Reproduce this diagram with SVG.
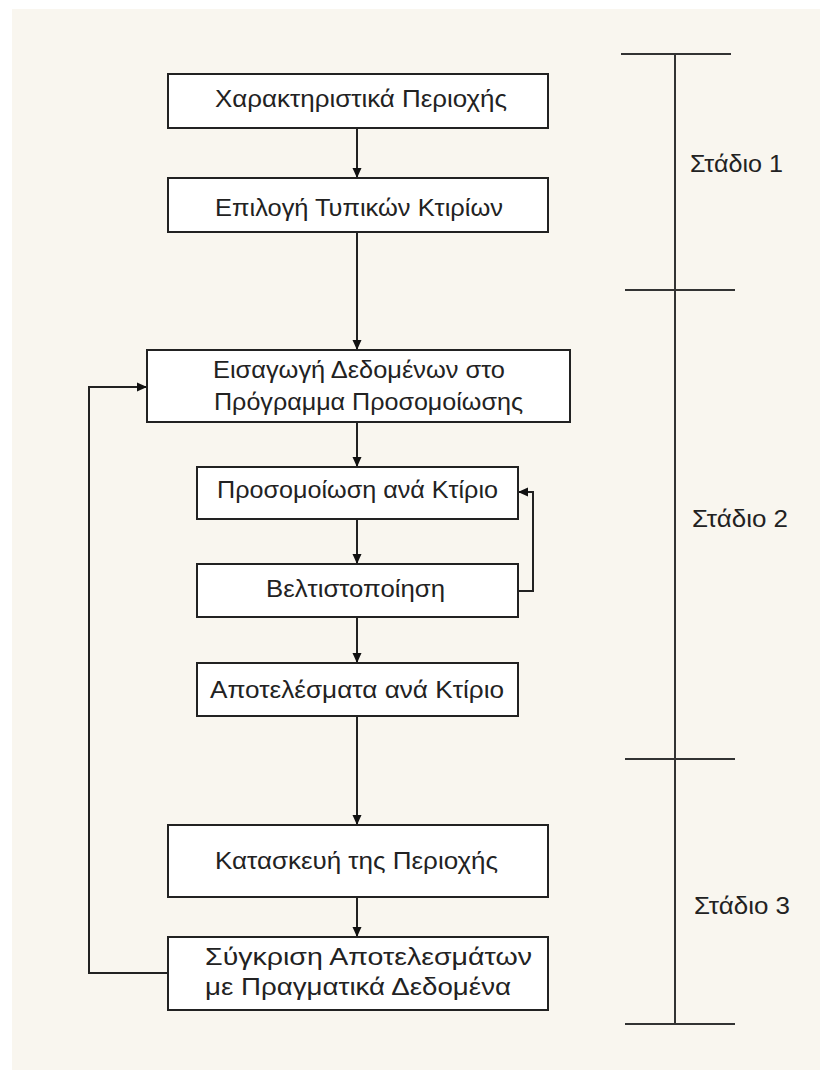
<svg xmlns="http://www.w3.org/2000/svg" width="820" height="1070" viewBox="0 0 820 1070">
<style>
.bg{fill:#f9f6ef}
.box{fill:#ffffff;stroke:#222;stroke-width:2}
.t{font-family:"Liberation Sans",Arial,sans-serif;font-size:24px;fill:#222}
.c{fill:none;stroke:#222;stroke-width:2}
.bar{fill:none;stroke:#333;stroke-width:2}
</style>
<defs>
<marker id="ah" markerUnits="userSpaceOnUse" markerWidth="12" markerHeight="12" viewBox="0 0 12 12" refX="11" refY="6" orient="auto">
<path d="M1,1.5 L11,6 L1,10.5 Z" fill="#111"/>
</marker>
</defs>
<rect x="12" y="9" width="808" height="1061" class="bg"/>

<g id="stages">
<line class="bar" x1="675" y1="54" x2="675" y2="1024"/>
<line class="bar" x1="621" y1="54" x2="731" y2="54"/>
<line class="bar" x1="625" y1="290" x2="735" y2="290"/>
<line class="bar" x1="625" y1="759" x2="735" y2="759"/>
<line class="bar" x1="625" y1="1024" x2="735" y2="1024"/>
<text class="t" x="690" y="172" textLength="93" lengthAdjust="spacingAndGlyphs">Στάδιο 1</text>
<text class="t" x="692" y="527" textLength="96" lengthAdjust="spacingAndGlyphs">Στάδιο 2</text>
<text class="t" x="694" y="914" textLength="96" lengthAdjust="spacingAndGlyphs">Στάδιο 3</text>
</g>

<g id="connectors">
<line class="c" x1="357" y1="128" x2="357" y2="178" marker-end="url(#ah)"/>
<line class="c" x1="357" y1="232" x2="357" y2="350" marker-end="url(#ah)"/>
<line class="c" x1="357" y1="422" x2="357" y2="467" marker-end="url(#ah)"/>
<line class="c" x1="357" y1="519" x2="357" y2="564" marker-end="url(#ah)"/>
<line class="c" x1="357" y1="617" x2="357" y2="663" marker-end="url(#ah)"/>
<line class="c" x1="357" y1="716" x2="357" y2="825" marker-end="url(#ah)"/>
<line class="c" x1="357" y1="897" x2="357" y2="937" marker-end="url(#ah)"/>
<polyline class="c" points="168,973 89,973 89,387 147,387" marker-end="url(#ah)"/>
<polyline class="c" points="518,591 533,591 533,492 518,492" marker-end="url(#ah)"/>
</g>

<g id="n1">
<rect class="box" x="168" y="74" width="380" height="54"/>
<text class="t" x="215" y="107" textLength="292" lengthAdjust="spacingAndGlyphs">Χαρακτηριστικά Περιοχής</text>
</g>
<g id="n2">
<rect class="box" x="168" y="178" width="380" height="54"/>
<text class="t" x="215" y="216" textLength="288" lengthAdjust="spacingAndGlyphs">Επιλογή Τυπικών Κτιρίων</text>
</g>
<g id="n3">
<rect class="box" x="147" y="350" width="423" height="72"/>
<text class="t" x="213" y="378" textLength="292" lengthAdjust="spacingAndGlyphs">Εισαγωγή Δεδομένων στο</text>
<text class="t" x="214" y="410" textLength="309" lengthAdjust="spacingAndGlyphs">Πρόγραμμα Προσομοίωσης</text>
</g>
<g id="n4">
<rect class="box" x="197" y="467" width="321" height="52"/>
<text class="t" x="217" y="498" textLength="281" lengthAdjust="spacingAndGlyphs">Προσομοίωση ανά Κτίριο</text>
</g>
<g id="n5">
<rect class="box" x="197" y="564" width="321" height="53"/>
<text class="t" x="266" y="597" textLength="179" lengthAdjust="spacingAndGlyphs">Βελτιστοποίηση</text>
</g>
<g id="n6">
<rect class="box" x="197" y="663" width="321" height="53"/>
<text class="t" x="210" y="698" textLength="294" lengthAdjust="spacingAndGlyphs">Αποτελέσματα ανά Κτίριο</text>
</g>
<g id="n7">
<rect class="box" x="168" y="825" width="380" height="72"/>
<text class="t" x="215" y="869" textLength="283" lengthAdjust="spacingAndGlyphs">Κατασκευή της Περιοχής</text>
</g>
<g id="n8">
<rect class="box" x="168" y="937" width="380" height="73"/>
<text class="t" x="205" y="965" textLength="327" lengthAdjust="spacingAndGlyphs">Σύγκριση Αποτελεσμάτων</text>
<text class="t" x="205" y="995" textLength="306" lengthAdjust="spacingAndGlyphs">με Πραγματικά Δεδομένα</text>
</g>
</svg>
